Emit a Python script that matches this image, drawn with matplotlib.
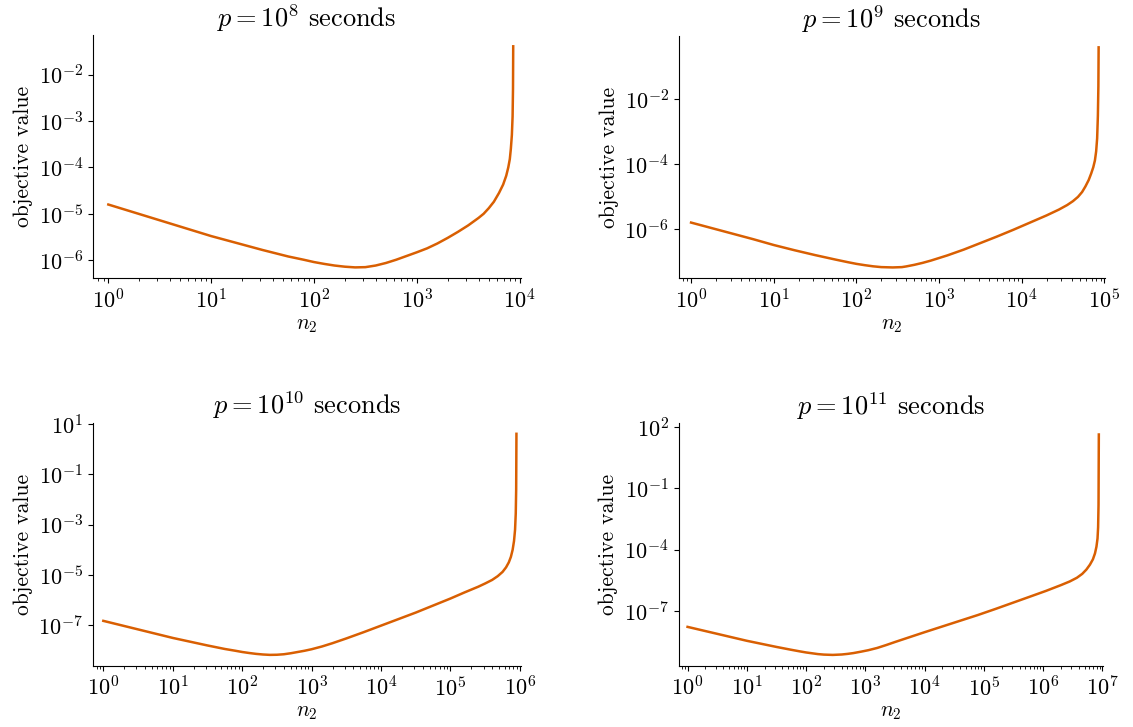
import numpy as np
import matplotlib
matplotlib.use("Agg")
import matplotlib.pyplot as plt
from matplotlib.ticker import NullLocator, LogLocator

plt.rcParams["font.family"] = "serif"
plt.rcParams["font.serif"] = ["cmr10"]
plt.rcParams["mathtext.fontset"] = "cm"
plt.rcParams["axes.formatter.use_mathtext"] = True

# values (log10 of n2, log10 of objective value)
log_n2_p8 = [0.0, 0.25, 0.5, 0.75, 1.0, 1.25, 1.5, 1.75, 1.9, 2.0, 2.1, 2.2, 2.3, 2.4, 2.5,
             2.6, 2.7, 2.8, 2.9, 3.0, 3.1, 3.2, 3.3, 3.4, 3.5, 3.6, 3.65, 3.7, 3.75, 3.8,
             3.84, 3.87, 3.89, 3.905, 3.915, 3.925, 3.932, 3.936, 3.938]
log_obj_p8 = [-4.80, -4.97, -5.14, -5.31, -5.48, -5.63, -5.78, -5.92, -5.99, -6.04, -6.08,
              -6.115, -6.14, -6.155, -6.15, -6.115, -6.06, -5.99, -5.91, -5.83, -5.745, -5.64,
              -5.52, -5.39, -5.25, -5.09, -5.00, -4.88, -4.74, -4.55, -4.37, -4.18, -4.00,
              -3.82, -3.60, -3.30, -2.90, -2.30, -1.39]

log_n2_p9 = [0.0, 0.25, 0.5, 0.75, 1.0, 1.25, 1.5, 1.75, 1.9, 2.0, 2.1, 2.2, 2.3, 2.44, 2.55,
             2.6, 2.7, 2.8, 2.9, 3.0, 3.1, 3.2, 3.3, 3.5, 3.7, 3.9, 4.1, 4.3, 4.45, 4.55,
             4.62, 4.68, 4.73, 4.77, 4.81, 4.84, 4.865, 4.885, 4.90, 4.912, 4.921, 4.927, 4.93]
log_obj_p9 = [-5.79, -5.96, -6.13, -6.30, -6.48, -6.64, -6.79, -6.93, -7.01, -7.06, -7.10,
              -7.135, -7.16, -7.17, -7.16, -7.14, -7.09, -7.03, -6.96, -6.88, -6.80, -6.71,
              -6.62, -6.42, -6.22, -6.01, -5.79, -5.57, -5.39, -5.25, -5.13, -5.00, -4.85,
              -4.68, -4.48, -4.28, -4.09, -3.88, -3.60, -3.20, -2.50, -1.60, -0.40]

log_n2_p10 = [0.0, 0.25, 0.5, 0.75, 1.0, 1.25, 1.5, 1.75, 1.9, 2.0, 2.1, 2.2, 2.3, 2.4, 2.5,
              2.6, 2.7, 2.8, 2.9, 3.0, 3.15, 3.3, 3.5, 3.75, 4.0, 4.25, 4.5, 4.75, 5.0, 5.2,
              5.4, 5.5, 5.6, 5.68, 5.75, 5.8, 5.84, 5.87, 5.895, 5.915, 5.93, 5.94, 5.946, 5.95]
log_obj_p10 = [-6.83, -7.00, -7.17, -7.34, -7.51, -7.66, -7.81, -7.95, -8.02, -8.07, -8.11,
               -8.145, -8.17, -8.185, -8.18, -8.16, -8.12, -8.07, -8.02, -7.96, -7.85, -7.72,
               -7.53, -7.28, -7.02, -6.76, -6.50, -6.22, -5.94, -5.70, -5.47, -5.34, -5.20,
               -5.05, -4.88, -4.70, -4.50, -4.28, -4.00, -3.65, -3.20, -2.55, -1.60, 0.62]

log_n2_p11 = [0.0, 0.25, 0.5, 0.75, 1.0, 1.25, 1.5, 1.75, 1.9, 2.0, 2.1, 2.2, 2.3, 2.45, 2.6,
              2.7, 2.8, 2.93, 3.05, 3.2, 3.35, 3.5, 3.75, 4.0, 4.3, 4.6, 4.9, 5.2, 5.5, 5.8,
              6.05, 6.3, 6.45, 6.57, 6.66, 6.73, 6.79, 6.84, 6.875, 6.9, 6.918, 6.928, 6.935, 6.94]
log_obj_p11 = [-7.77, -7.94, -8.11, -8.28, -8.45, -8.60, -8.75, -8.89, -8.97, -9.02, -9.06,
               -9.10, -9.125, -9.14, -9.12, -9.09, -9.05, -8.98, -8.91, -8.80, -8.66, -8.51,
               -8.27, -8.03, -7.75, -7.47, -7.19, -6.89, -6.58, -6.27, -6.01, -5.73, -5.55,
               -5.37, -5.18, -4.97, -4.73, -4.47, -4.18, -3.85, -3.45, -2.90, -1.80, 1.63]

exponents = [8, 9, 10, 11]
curves = [(log_n2_p8, log_obj_p8), (log_n2_p9, log_obj_p9),
          (log_n2_p10, log_obj_p10), (log_n2_p11, log_obj_p11)]
x_max_decade = [4, 5, 6, 7]
y_tick_exps = [[-6, -5, -4, -3, -2], [-6, -4, -2], [-7, -5, -3, -1, 1], [-7, -4, -1, 2]]

positions = [[0.082, 0.617, 0.3775, 0.3345],
             [0.599, 0.617, 0.3765, 0.333],
             [0.082, 0.084, 0.3775, 0.3345],
             [0.599, 0.084, 0.3745, 0.3335]]

color = "#d95f02"

fig = plt.figure(figsize=(11.33, 7.27), dpi=100)
for i in range(4):
    ax = fig.add_axes(positions[i])
    lx, ly = curves[i]
    ax.plot(10 ** np.array(lx), 10 ** np.array(ly), color=color, linewidth=1.8)
    ax.set_xscale("log")
    ax.set_yscale("log")
    ax.set_xlim(10 ** -0.15, 10 ** (x_max_decade[i] + 0.01))
    ax.set_xticks([10.0 ** k for k in range(0, x_max_decade[i] + 1)])
    ax.xaxis.set_minor_locator(LogLocator(base=10, subs=np.arange(2, 10), numticks=20))
    ax.set_yticks([10.0 ** k for k in y_tick_exps[i]])
    ax.yaxis.set_minor_locator(NullLocator())
    ax.spines["top"].set_visible(False)
    ax.spines["right"].set_visible(False)
    ax.tick_params(labelsize=16)
    ax.set_title(r"$p = 10^{%d}$ seconds" % exponents[i], fontsize=19)
    ax.set_xlabel(r"$n_2$", fontsize=15.5, labelpad=2)
    ax.set_ylabel("objective value", fontsize=15.5)

fig.savefig("out.png", dpi=100)
